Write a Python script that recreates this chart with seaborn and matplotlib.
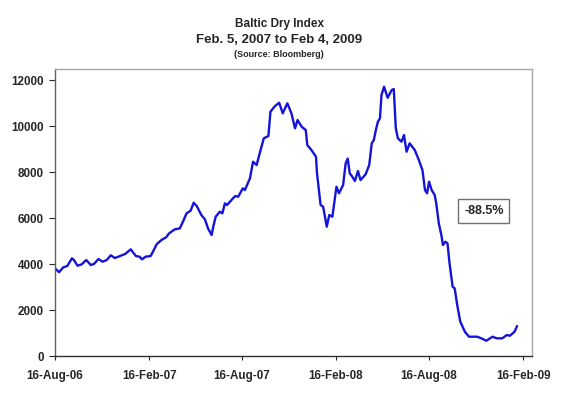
import pandas as pd
import matplotlib
matplotlib.use("Agg")
import matplotlib.pyplot as plt
import matplotlib.dates as mdates
import seaborn as sns

# Baltic Dry Index
dates = [
    "2006-08-16", "2006-08-24", "2006-09-01", "2006-09-09", "2006-09-18", "2006-09-22",
    "2006-09-29", "2006-10-07", "2006-10-16", "2006-10-25", "2006-10-31", "2006-11-09",
    "2006-11-17", "2006-11-25", "2006-12-03", "2006-12-11", "2006-12-21", "2006-12-31",
    "2007-01-11", "2007-01-21", "2007-01-28", "2007-02-02", "2007-02-09", "2007-02-19",
    "2007-03-03", "2007-03-12", "2007-03-21", "2007-03-27", "2007-04-07", "2007-04-17",
    "2007-04-25", "2007-04-30", "2007-05-08", "2007-05-14", "2007-05-20", "2007-05-29",
    "2007-06-05", "2007-06-11", "2007-06-18", "2007-06-22", "2007-06-26", "2007-07-04",
    "2007-07-09", "2007-07-14", "2007-07-18", "2007-07-27", "2007-08-03", "2007-08-09",
    "2007-08-18", "2007-08-22", "2007-09-01", "2007-09-07", "2007-09-14", "2007-09-20",
    "2007-09-28", "2007-10-07", "2007-10-11", "2007-10-20", "2007-10-28", "2007-11-04",
    "2007-11-13", "2007-11-21", "2007-11-28", "2007-12-03", "2007-12-11", "2007-12-19",
    "2007-12-22", "2007-12-30", "2008-01-08", "2008-01-10", "2008-01-17", "2008-01-22",
    "2008-01-29", "2008-02-03", "2008-02-09", "2008-02-17", "2008-02-22", "2008-03-01",
    "2008-03-06", "2008-03-10", "2008-03-14", "2008-03-19", "2008-03-24", "2008-03-30",
    "2008-04-04", "2008-04-14", "2008-04-21", "2008-04-26", "2008-04-30", "2008-05-04",
    "2008-05-08", "2008-05-12", "2008-05-15", "2008-05-20", "2008-05-27", "2008-06-04",
    "2008-06-08", "2008-06-12", "2008-06-16", "2008-06-23", "2008-06-28", "2008-07-03",
    "2008-07-09", "2008-07-19", "2008-07-27", "2008-08-03", "2008-08-08", "2008-08-12",
    "2008-08-16", "2008-08-21", "2008-08-27", "2008-08-30", "2008-09-04", "2008-09-09",
    "2008-09-12", "2008-09-17", "2008-09-21", "2008-09-25", "2008-10-01", "2008-10-05",
    "2008-10-10", "2008-10-16", "2008-10-25", "2008-11-02", "2008-11-18", "2008-11-26",
    "2008-12-06", "2008-12-18", "2008-12-26", "2009-01-06", "2009-01-15", "2009-01-21",
    "2009-01-30", "2009-02-04",
]
bdi = [
    3820, 3650, 3860, 3920, 4254, 4180,
    3933, 3990, 4180, 3963, 4006, 4224,
    4107, 4180, 4385, 4268, 4355, 4442,
    4646, 4355, 4326, 4210, 4326, 4355,
    4878, 5052, 5168, 5342, 5516, 5560,
    5952, 6213, 6329, 6677, 6532, 6140,
    5952, 5560, 5270, 5700, 6067, 6285,
    6213, 6648, 6576, 6794, 6968, 6938,
    7303, 7229, 7739, 8462, 8318, 8828,
    9481, 9581, 10640, 10888, 11030, 10570,
    11005, 10570, 9916, 10278, 9986, 9842,
    9189, 8971, 8680, 7957, 6576, 6502,
    5631, 6140, 6067, 7373, 7086, 7450,
    8392, 8600, 7957, 7809, 7621, 8057,
    7665, 7913, 8318, 9263, 9407, 9842,
    10204, 10351, 11367, 11728, 11249, 11584,
    11628, 9916, 9481, 9333, 9625, 8897,
    9263, 8971, 8536, 8100, 7229, 7086,
    7591, 7229, 7011, 6648, 5779, 5270,
    4834, 4978, 4906, 4037, 3018, 2948,
    2221, 1494, 1058, 841, 841, 771,
    666, 841, 771, 771, 915, 884,
    1058, 1307,
]
tick_dates = ["2006-08-16", "2007-02-16", "2007-08-16", "2008-02-16", "2008-08-16", "2009-02-16"]
y_ticks = [0, 2000, 4000, 6000, 8000, 10000, 12000]

df = pd.DataFrame({"Date": pd.to_datetime(dates), "BDI": bdi})

sns.set_style("white")
plt.rcParams["font.family"] = ["Liberation Sans", "DejaVu Sans"]
plt.rcParams["font.weight"] = "bold"

fig = plt.figure(figsize=(5.76, 3.94), dpi=100)
ax = fig.add_axes([0.0955, 0.0964, 0.828, 0.7285])

sns.lineplot(data=df, x="Date", y="BDI", ax=ax, color="#1414D8", linewidth=1.7)

ax.set_xlim(pd.Timestamp("2006-08-16"), pd.Timestamp("2009-03-05"))
ax.set_ylim(0, 12500)
ax.set_xticks(pd.to_datetime(tick_dates))
ax.xaxis.set_major_formatter(mdates.DateFormatter("%d-%b-%y"))
ax.set_yticks(y_ticks)
ax.set_xlabel("")
ax.set_ylabel("")
ax.tick_params(axis="x", direction="out", length=3, width=0.8, pad=7, labelsize=8.4, bottom=True)
ax.tick_params(axis="y", direction="out", length=4, width=0.8, pad=4, labelsize=8.4, left=True)
for lbl in ax.get_xticklabels() + ax.get_yticklabels():
    lbl.set_fontweight("bold")

ax.spines["left"].set_color("#606060")
ax.spines["bottom"].set_color("#303030")
ax.spines["top"].set_color("#A8A8A8")
ax.spines["right"].set_color("#A8A8A8")
for s in ax.spines.values():
    s.set_linewidth(1.0)

fig.text(0.485, 0.94, "Baltic Dry Index", ha="center", va="center", fontsize=8.5, fontweight="bold")
fig.text(0.485, 0.898, "Feb. 5, 2007 to Feb 4, 2009", ha="center", va="center", fontsize=9.5, fontweight="bold")
fig.text(0.485, 0.862, "(Source: Bloomberg)", ha="center", va="center", fontsize=6.5, fontweight="bold")

ax.text(0.899, 0.505, "-88.5%", transform=ax.transAxes, ha="center", va="center",
        fontsize=9, fontweight="bold",
        bbox=dict(boxstyle="square,pad=0.45", facecolor="white", edgecolor="#707070", linewidth=1.0))

plt.savefig("out.png", dpi=100)
plt.close()
